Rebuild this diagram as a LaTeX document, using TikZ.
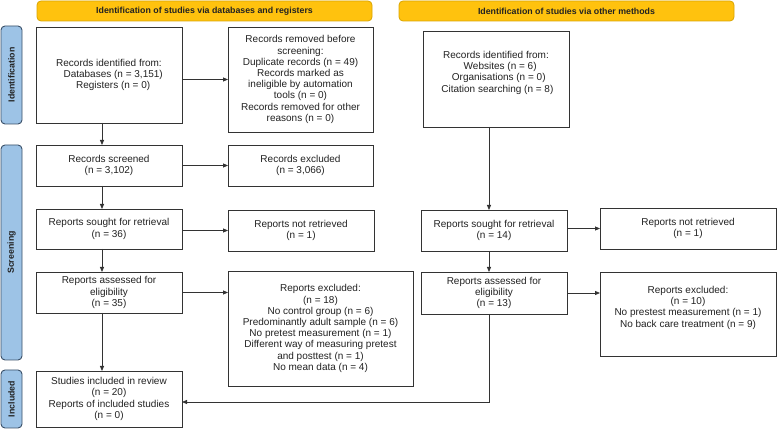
\documentclass[tikz,border=0pt]{standalone}
\usepackage{fontspec}
\setmainfont{Liberation Sans}
\usetikzlibrary{arrows.meta,calc}
\definecolor{hdrfill}{HTML}{FFC20E}
\definecolor{hdrdraw}{HTML}{D9A400}
\definecolor{sidefill}{HTML}{9DC3E6}
\definecolor{sidedraw}{HTML}{3A5068}
\definecolor{boxdraw}{HTML}{333333}
\definecolor{txt}{HTML}{222222}
\begin{document}
\begin{tikzpicture}[x=1pt,y=-1pt,
  box/.style={draw=boxdraw,line width=0.9pt,fill=white,inner sep=0pt,outer sep=0pt,
    align=center,text=txt,font=\fontsize{10}{11.2}\selectfont},
  hdr/.style={draw=hdrdraw,line width=0.8pt,fill=hdrfill,rounded corners=4pt,inner sep=0pt,
    minimum height=20pt,minimum width=335pt,font=\fontsize{8.8}{10}\selectfont\bfseries,text=txt},
  side/.style={draw=sidedraw,line width=0.9pt,fill=sidefill,rounded corners=4pt,inner sep=0pt,
    minimum height=21pt,rotate=90,font=\fontsize{8.8}{10}\selectfont\bfseries,text=txt},
  arr/.style={draw=boxdraw,line width=0.8pt,-{Triangle[length=5pt,width=4pt]}},
  ln/.style={draw=boxdraw,line width=0.8pt}]
\useasboundingbox (0,0) rectangle (777,430);
% headers
\node[hdr] (h1) at (204.5,11) {Identification of studies via databases and registers};
\node[hdr] (h2) at (566.5,11) {Identification of studies via other methods};
% side labels
\node[side,minimum width=98pt] (s1) at (11.5,75) {Identification};
\node[side,minimum width=215pt] (s2) at (11.5,252.5) {Screening};
\node[side,minimum width=58pt] (s3) at (11.5,399) {Included};
% left column
\node[box,minimum width=146pt,minimum height=96pt] (id1) at (109,75)
  {Records identified from:\\ \ \ \ Databases (n = 3,151)\\ \ \ \ Registers (n = 0)};
\node[box,minimum width=145pt,minimum height=105pt] (rem) at (300.5,79.5)
  {Records removed before\\screening:\\Duplicate records (n = 49)\\Records marked as\\ineligible by automation\\tools (n = 0)\\Records removed for other\\reasons (n = 0)};
\node[box,minimum width=146pt,minimum height=41pt] (scr) at (109,165.5)
  {Records screened\\(n = 3,102)};
\node[box,minimum width=145pt,minimum height=41pt] (exc) at (300.5,165.5)
  {Records excluded\\(n = 3,066)};
\node[box,minimum width=146pt,minimum height=40pt] (sou) at (109,229)
  {Reports sought for retrieval\\(n = 36)};
\node[box,minimum width=146pt,minimum height=41pt] (nre) at (301,230.5)
  {Reports not retrieved\\(n = 1)};
\node[box,minimum width=146pt,minimum height=41pt] (ass) at (109,292.5)
  {Reports assessed for\\eligibility\\(n = 35)};
\node[box,minimum width=185pt,minimum height=115pt] (rex) at (320.5,328.5)
  {Reports excluded:\\(n = 18)\\No control group (n = 6)\\Predominantly adult sample (n = 6)\\No pretest measurement (n = 1)\\Different way of measuring pretest\\and posttest (n = 1)\\No mean data (n = 4)};
\node[box,minimum width=146pt,minimum height=56pt] (inc) at (109,399)
  {Studies included in review\\(n = 20)\\Reports of included studies\\(n = 0)};
% right column
\node[box,minimum width=146pt,minimum height=96pt] (id2) at (496,79)
  {Records identified from:\\ \ \ \ Websites (n = 6)\\ \ \ Organisations (n = 0)\\ \ Citation searching (n = 8)\\ \strut};
\node[box,minimum width=146pt,minimum height=41pt] (sou2) at (494,230.5)
  {Reports sought for retrieval\\(n = 14)};
\node[box,minimum width=176pt,minimum height=41pt] (nre2) at (688,228.5)
  {Reports not retrieved\\(n = 1)};
\node[box,minimum width=146pt,minimum height=42pt] (ass2) at (494,293)
  {Reports assessed for\\eligibility\\(n = 13)};
\node[box,minimum width=176pt,minimum height=84pt] (rex2) at (688,314)
  {Reports excluded:\\(n = 10)\\No prestest measurement (n = 1)\\No back care treatment (n = 9)\\ \strut};
% guide coordinates
\coordinate (lx) at (102,0);
\coordinate (rx) at (489,0);
% connectors
\draw[arr] (id1.east |- rem.west) -- (rem.west);
\draw[arr] (id1.south -| lx) -- (scr.north -| lx);
\draw[arr] (scr.east) -- (exc.west);
\draw[arr] (scr.south -| lx) -- (sou.north -| lx);
\draw[arr] (sou.east |- nre.west) -- (nre.west);
\draw[arr] (sou.south -| lx) -- (ass.north -| lx);
\draw[arr] (ass.east) -- (ass.east -| rex.west);
\draw[arr] (ass.south -| lx) -- (inc.north -| lx);
\draw[arr] (id2.south -| rx) -- (sou2.north -| rx);
\draw[arr] (sou2.east |- nre2.west) -- (nre2.west);
\draw[arr] (sou2.south -| rx) -- (ass2.north -| rx);
\draw[arr] (ass2.east) -- (ass2.east -| rex2.west);
\draw[arr] (ass2.south -| rx) |- ([yshift=-3pt]inc.east);
\end{tikzpicture}
\end{document}
